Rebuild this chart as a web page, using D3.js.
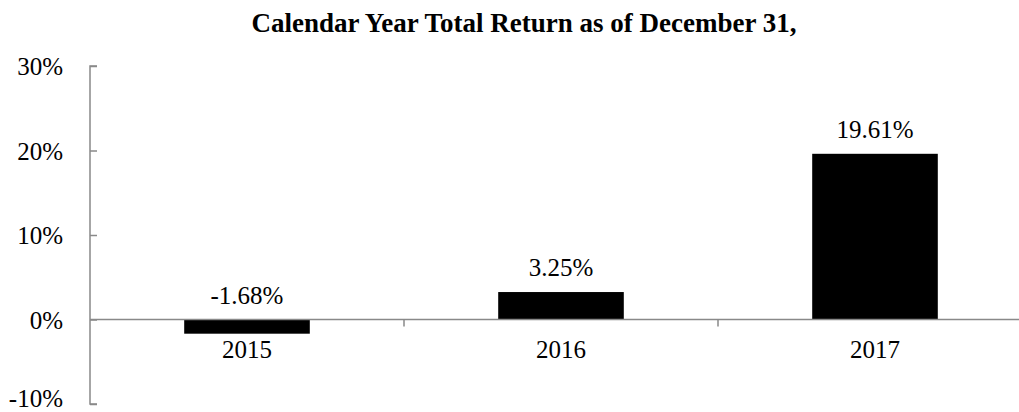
<!DOCTYPE html>
<html>
<head>
<meta charset="utf-8" />
<title>Calendar Year Total Return</title>
<style>
    body { margin: 0; background: #fff; }
    svg { display: block; font-family: "Liberation Serif", "Times New Roman", serif; }
    .axis path, .axis line { stroke: #898989; stroke-width: 1.5px; }
    .axis text { font-family: "Liberation Serif", serif; font-size: 25px; fill: #000; }
</style>
<script src="https://cdn.jsdelivr.net/npm/d3@7"></script>
</head>
<body>
<script>
    // data
    var years = ['2015', '2016', '2017'];
    var returns = [-1.68, 3.25, 19.61];
    var yTicks = [-10, 0, 10, 20, 30];

    var width = 1019, height = 412;

    var svg = d3.select('body').append('svg')
        .attr('width', width)
        .attr('height', height);

    // scales
    var x = d3.scaleBand().domain(years).range([90, 1032]).padding(0);
    var y = d3.scaleLinear().domain([-10, 30]).range([404, 66]);

    // title
    svg.append('text')
        .attr('x', 524)
        .attr('y', 32)
        .attr('text-anchor', 'middle')
        .style('font-weight', 'bold')
        .style('font-size', '27px')
        .text('Calendar Year Total Return as of December 31,');

    // bars
    var barW = x.bandwidth() * 0.4;
    svg.selectAll('.bar')
        .data(years)
        .enter().append('rect')
            .attr('class', 'bar')
            .attr('x', function(d) { return x(d) + (x.bandwidth() - barW) / 2; })
            .attr('width', barW)
            .attr('y', function(d, i) { return y(Math.max(0, returns[i])); })
            .attr('height', function(d, i) { return Math.abs(y(returns[i]) - y(0)); })
            .attr('fill', '#000');

    // y axis
    var yAxis = svg.append('g')
        .attr('class', 'axis')
        .attr('transform', 'translate(90,0)')
        .call(d3.axisRight(y).tickValues(yTicks).tickSize(7).tickFormat(function(d) { return d + '%'; }));
    yAxis.select('.domain').attr('d', 'M7,' + y(30) + 'H0V' + y(-10) + 'H7');
    // bottom label sits at the window edge, nudge it up so it stays whole
    yAxis.selectAll('text')
        .attr('x', -27)
        .attr('text-anchor', 'end')
        .attr('dy', function(d) { return d === -10 ? '0.08em' : '0.35em'; });

    // x axis at zero
    var xAxis = svg.append('g')
        .attr('class', 'axis')
        .attr('transform', 'translate(0,' + y(0) + ')');
    xAxis.append('line')
        .attr('x1', 90).attr('x2', 1032)
        .attr('y1', 0).attr('y2', 0);
    xAxis.selectAll('.tk')
        .data(years.slice(1))
        .enter().append('line')
            .attr('class', 'tk')
            .attr('x1', function(d) { return x(d); })
            .attr('x2', function(d) { return x(d); })
            .attr('y1', 0).attr('y2', 7);
    xAxis.selectAll('.lbl')
        .data(years)
        .enter().append('text')
            .attr('class', 'lbl')
            .attr('x', function(d) { return x(d) + x.bandwidth() / 2; })
            .attr('y', 38)
            .attr('text-anchor', 'middle')
            .text(function(d) { return d; });

    // value labels
    svg.selectAll('.val')
        .data(years)
        .enter().append('text')
            .attr('class', 'val')
            .attr('x', function(d) { return x(d) + x.bandwidth() / 2; })
            .attr('y', function(d, i) { return y(Math.max(0, returns[i])) - 16; })
            .attr('text-anchor', 'middle')
            .style('font-size', '25px')
            .text(function(d, i) { return returns[i].toFixed(2) + '%'; });
</script>
</body>
</html>
